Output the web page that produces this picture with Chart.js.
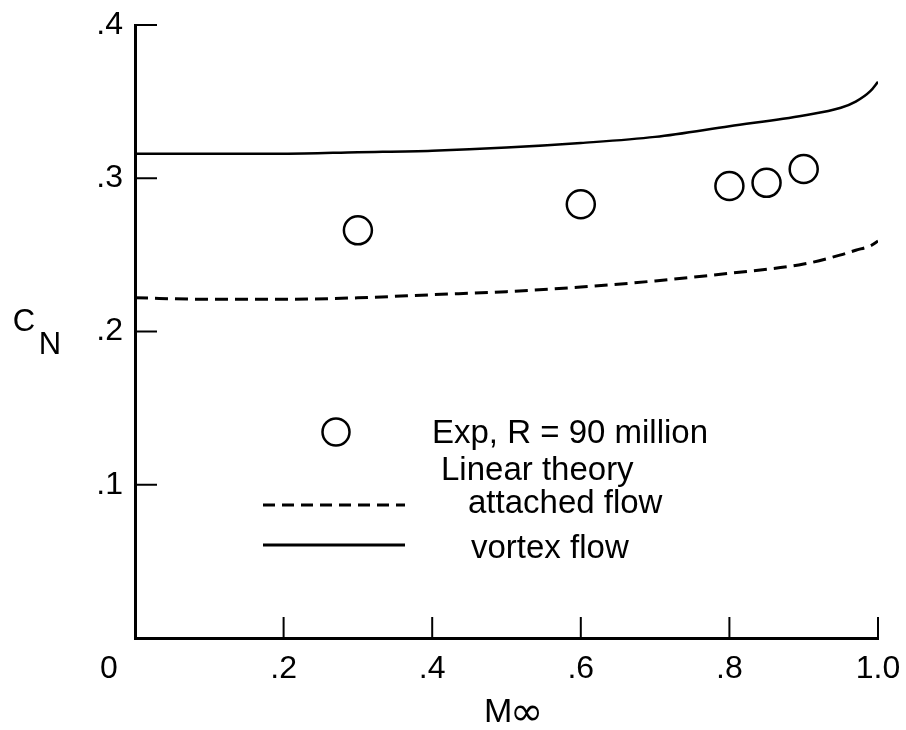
<!DOCTYPE html>
<html>
<head>
<meta charset="utf-8">
<script src="https://cdn.jsdelivr.net/npm/chart.js@4.4.1/dist/chart.umd.min.js"></script>
<style>
html, body { margin: 0; padding: 0; background: #fff; }
</style>
</head>
<body>
<canvas id="grafico" width="906" height="730"></canvas>
<script>
// pontos experimentais (circulos)
const machExp = [0.3, 0.6, 0.8, 0.85, 0.9];
const cnExp = [0.266, 0.283, 0.295, 0.297, 0.306];

// curvas da teoria linear
const machTeoria = [0, 0.1, 0.2, 0.3, 0.4, 0.5, 0.6, 0.7, 0.8, 0.9, 0.95, 0.97, 0.99, 1.0];
const cnVortice = [0.316, 0.316, 0.316, 0.317, 0.318, 0.320, 0.323, 0.327, 0.334, 0.341, 0.346, 0.350, 0.357, 0.363];
const cnColado = [0.222, 0.221, 0.221, 0.222, 0.224, 0.226, 0.229, 0.233, 0.238, 0.244, 0.250, 0.253, 0.256, 0.259];

const legendaTextos = ['Exp, R = 90 million', 'Linear theory', 'attached flow', 'vortex flow'];

const fonte = '"Liberation Sans", Arial, Helvetica, sans-serif';

function juntar(xs, ys) {
    let pts = [];
    for (let i = 0; i < xs.length; i++) {
        pts.push({ x: xs[i], y: ys[i] });
    }
    return pts;
}

function rotulo(v) {
    if (Math.abs(v) < 1e-9) return '';
    let s = v.toFixed(1);
    if (s.startsWith('0')) s = s.substring(1);
    return s;
}

// ticks para dentro, textos dos eixos e legenda
const extras = {
    id: 'extras',
    afterDraw(chart) {
        const ctx = chart.ctx;
        const sx = chart.scales.x;
        const sy = chart.scales.y;
        const area = chart.chartArea;
        ctx.save();
        ctx.strokeStyle = '#000';
        ctx.lineWidth = 2;
        sy.ticks.forEach(t => {
            if (t.value <= 0) return;
            const py = sy.getPixelForValue(t.value);
            ctx.beginPath();
            ctx.moveTo(area.left, py);
            ctx.lineTo(area.left + 22, py);
            ctx.stroke();
        });
        sx.ticks.forEach(t => {
            if (t.value <= 0) return;
            const px = sx.getPixelForValue(t.value);
            ctx.beginPath();
            ctx.moveTo(px, area.bottom);
            ctx.lineTo(px, area.bottom - 21);
            ctx.stroke();
        });

        ctx.fillStyle = '#000';
        ctx.textBaseline = 'middle';
        ctx.textAlign = 'center';
        ctx.font = '32px ' + fonte;
        ctx.fillText('0', sx.getPixelForValue(0) - 26, 669);

        // C_N
        ctx.font = '31px ' + fonte;
        ctx.fillText('C', 24, 322);
        ctx.fillText('N', 50, 345);

        // M infinito
        ctx.textBaseline = 'alphabetic';
        ctx.textAlign = 'left';
        ctx.font = '34px ' + fonte;
        ctx.fillText('M', 484, 722);
        ctx.font = '40px "DejaVu Sans", sans-serif';
        ctx.fillText('\u221E', 510, 725);

        // legenda
        ctx.font = '33px ' + fonte;
        ctx.lineWidth = 2.5;
        ctx.beginPath();
        ctx.arc(336, 432, 13.5, 0, Math.PI * 2);
        ctx.stroke();
        ctx.fillText(legendaTextos[0], 432, 443);
        ctx.fillText(legendaTextos[1], 441, 480);
        ctx.fillText(legendaTextos[2], 468, 513);
        ctx.fillText(legendaTextos[3], 471, 558);

        ctx.lineWidth = 3;
        ctx.setLineDash([12, 7]);
        ctx.beginPath();
        ctx.moveTo(263, 505);
        ctx.lineTo(405, 505);
        ctx.stroke();
        ctx.setLineDash([]);
        ctx.beginPath();
        ctx.moveTo(263, 545);
        ctx.lineTo(405, 545);
        ctx.stroke();
        ctx.restore();
    }
};

let grafico = new Chart(document.getElementById('grafico'), {
    type: 'scatter',
    data: {
        datasets: [{
            label: 'vortex flow',
            data: juntar(machTeoria, cnVortice),
            showLine: true,
            borderColor: '#000',
            borderWidth: 2.5,
            pointRadius: 0,
            cubicInterpolationMode: 'monotone',
            fill: false
        }, {
            label: 'attached flow',
            data: juntar(machTeoria, cnColado),
            showLine: true,
            borderColor: '#000',
            borderWidth: 3,
            borderDash: [13, 7],
            pointRadius: 0,
            cubicInterpolationMode: 'monotone',
            fill: false
        }, {
            label: 'Exp, R = 90 million',
            data: juntar(machExp, cnExp),
            pointStyle: 'circle',
            pointRadius: 14,
            pointBorderWidth: 2.5,
            borderColor: '#000',
            backgroundColor: 'rgba(255,255,255,0)',
            showLine: false
        }]
    },
    options: {
        responsive: false,
        animation: false,
        devicePixelRatio: 1,
        layout: { padding: { top: 25, right: 28, left: 0, bottom: 0 } },
        plugins: {
            legend: { display: false },
            tooltip: { enabled: false }
        },
        scales: {
            x: {
                type: 'linear',
                min: 0,
                max: 1,
                ticks: {
                    stepSize: 0.2,
                    callback: v => rotulo(v),
                    color: '#000',
                    font: { family: fonte, size: 32 },
                    padding: 12,
                    maxRotation: 0,
                    autoSkip: false
                },
                grid: { display: false, drawTicks: false },
                border: { display: true, color: '#000', width: 3 },
                afterFit: s => { s.height = 92; s.paddingLeft = 0; s.paddingRight = 0; }
            },
            y: {
                type: 'linear',
                min: 0,
                max: 0.4,
                ticks: {
                    stepSize: 0.1,
                    callback: v => rotulo(v),
                    color: '#000',
                    font: { family: fonte, size: 32 },
                    padding: 12
                },
                grid: { display: false, drawTicks: false },
                border: { display: true, color: '#000', width: 3 },
                afterFit: s => { s.width = 135; s.paddingTop = 0; s.paddingBottom = 0; }
            }
        }
    },
    plugins: [extras]
});
</script>
</body>
</html>
